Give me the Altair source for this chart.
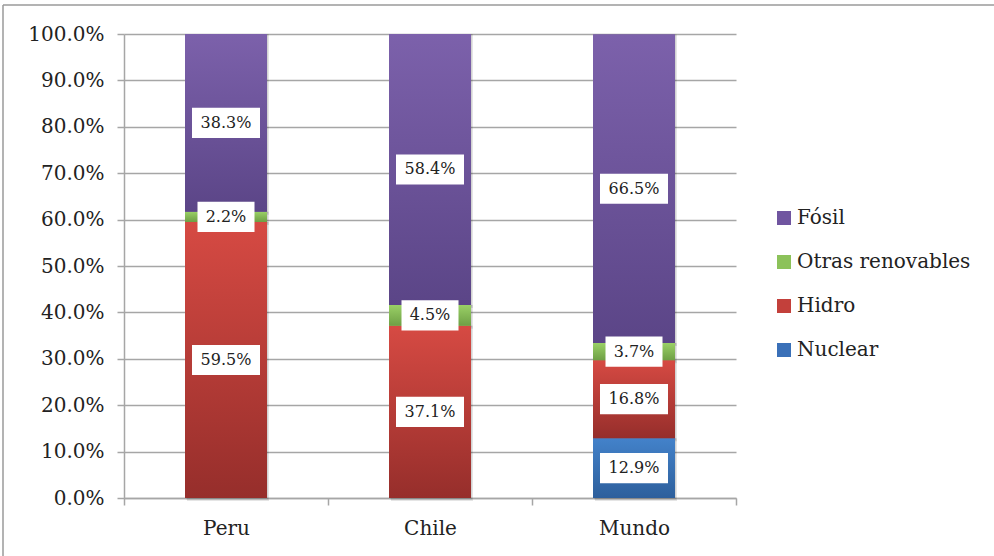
import altair as alt
import pandas as pd

# Electricity generation mix by source (% of total)
countries = ["Peru", "Chile", "Mundo"]
sources = ["Nuclear", "Hidro", "Otras renovables", "Fósil"]
nuclear = [0.0, 0.0, 12.9]
hidro = [59.5, 37.1, 16.8]
otras = [2.2, 4.5, 3.7]
fosil = [38.3, 58.4, 66.5]

legend_order = ["Fósil", "Otras renovables", "Hidro", "Nuclear"]
solid = {"Fósil": "#7055a0", "Otras renovables": "#8cc25a", "Hidro": "#c3403b", "Nuclear": "#3a70b8"}
shades = {
    "Fósil": ("#7c61ab", "#5b4587"),
    "Otras renovables": ("#9ad066", "#6e9f45"),
    "Hidro": ("#d64a43", "#962e2b"),
    "Nuclear": ("#4382ca", "#2d5f9c"),
}

series = dict(zip(sources, [nuclear, hidro, otras, fosil]))
rows = []
for i, c in enumerate(countries):
    base = 0.0
    for s in sources:
        v = series[s][i]
        if v > 0:
            rows.append({"pais": c, "fuente": s, "valor": v,
                         "lo": base / 100, "hi": (base + v) / 100,
                         "mid": (base + v / 2) / 100,
                         "etiqueta": f"{v:.1f}%"})
        base += v
df = pd.DataFrame(rows)

W, H = 612, 464
FONT = "DejaVu Serif"

x_enc = alt.X("pais:N", sort=countries, title=None,
              scale=alt.Scale(paddingInner=0, paddingOuter=0),
              axis=alt.Axis(labelAngle=0, tickBand="extent", labelFontSize=20,
                            labelFont=FONT, labelColor="#222222", labelPadding=13,
                            tickSize=7, tickColor="#a6a6a6", tickWidth=1.5,
                            domainColor="#a6a6a6", domainWidth=1.5, grid=False))
y_scale = alt.Scale(domain=[0, 1], nice=False)
y_enc = alt.Y("lo:Q", scale=y_scale, title=None,
              axis=alt.Axis(format=".1%", values=[i / 10 for i in range(11)],
                            labelFontSize=20, labelFont=FONT, labelColor="#222222",
                            labelPadding=13, tickSize=7, tickColor="#a6a6a6",
                            tickWidth=1.5, domainColor="#a6a6a6", domainWidth=1.5,
                            gridColor="#a6a6a6", gridWidth=1.5))

base = alt.Chart(df)

# soft drop shadow under each column
shadow = base.mark_bar(width=82, color="#000000", opacity=0.10, xOffset=2, yOffset=3).encode(
    x=x_enc, y=y_enc, y2="hi:Q")
shadow2 = base.mark_bar(width=82, color="#000000", opacity=0.08, xOffset=1, yOffset=1.5).encode(
    x=x_enc, y=y_enc, y2="hi:Q")

# solid bars carry the legend
bars = base.mark_bar(width=82).encode(
    x=x_enc, y=y_enc, y2="hi:Q",
    color=alt.Color("fuente:N", sort=legend_order,
                    scale=alt.Scale(domain=legend_order, range=[solid[s] for s in legend_order]),
                    legend=alt.Legend(title=None, orient="none", legendX=650, legendY=174,
                                      symbolType="square", symbolSize=196, symbolStrokeWidth=0,
                                      labelFont=FONT, labelFontSize=20, labelColor="#222222",
                                      labelOffset=3, labelLimit=0, rowPadding=24)))

# vertical gradient shading per source
grad_layers = []
for s in sources:
    top, bottom = shades[s]
    grad_layers.append(
        base.transform_filter(alt.datum.fuente == s).mark_bar(
            width=82,
            color=alt.LinearGradient(gradient="linear", x1=0, x2=0, y1=0, y2=1,
                                     stops=[alt.GradientStop(color=top, offset=0),
                                            alt.GradientStop(color=bottom, offset=1)])
        ).encode(x=x_enc, y=y_enc, y2="hi:Q"))

# white label boxes
boxes = []
for n, w in [(4, 57), (5, 68)]:
    boxes.append(
        base.transform_calculate(n="length(datum.etiqueta)", b0="datum.mid - 0.0325",
                                 b1="datum.mid + 0.0325")
        .transform_filter(alt.datum.n == n)
        .mark_bar(width=w, color="white")
        .encode(x=x_enc, y=alt.Y("b0:Q", scale=y_scale), y2="b1:Q"))

labels = base.mark_text(font=FONT, fontSize=16, color="#222222", baseline="middle").encode(
    x=x_enc, y=alt.Y("mid:Q", scale=y_scale), text="etiqueta:N")

# outer frame
one = pd.DataFrame({"k": [0]})
frame_left = alt.Chart(one).mark_rule(color="#9a9a9a", strokeWidth=1.5).encode(
    x=alt.value(-121), y=alt.value(-29), y2=alt.value(530))
frame_top = alt.Chart(one).mark_rule(color="#9a9a9a", strokeWidth=1.5).encode(
    x=alt.value(-121), x2=alt.value(880), y=alt.value(-29))

chart = alt.layer(shadow, shadow2, bars, *grad_layers, *boxes, labels, frame_left, frame_top).properties(
    width=W, height=H,
    autosize=alt.AutoSizeParams(type="none"),
    padding={"left": 124, "top": 34, "right": 994 - 124 - W, "bottom": 556 - 34 - H},
    background="white",
).configure_view(stroke=None)

chart.save("out.html", embed_options={"renderer": "svg", "actions": False})
